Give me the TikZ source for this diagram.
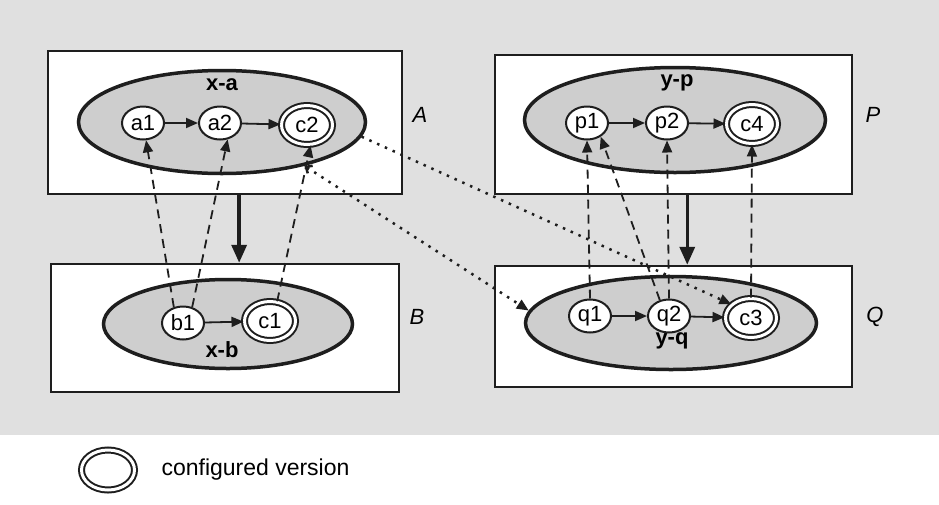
\documentclass[tikz,border=0pt]{standalone}
\usepackage{fontspec}
\setmainfont{Liberation Sans}
\usetikzlibrary{shapes.geometric,arrows.meta}

\definecolor{ink}{RGB}{30,30,30}
\definecolor{paper}{RGB}{224,224,224}
\definecolor{shade}{RGB}{206,206,206}

\begin{document}
\begin{tikzpicture}[x=1pt, y=-1pt,
    box/.style={rectangle, draw=ink, line width=2.5pt, fill=white, inner sep=0pt},
    cluster/.style={ellipse, draw=ink, line width=3.5pt, fill=shade, inner sep=0pt},
    ver/.style={ellipse, draw=ink, line width=2pt, fill=white,
        minimum width=42pt, minimum height=33pt, inner sep=0pt,
        font=\fontsize{22}{22}\selectfont},
    conf/.style={ver, double=white, double distance=3pt,
        minimum width=51pt, minimum height=39pt},
    title/.style={font=\bfseries\fontsize{22}{22}\selectfont},
    tag/.style={font=\itshape\fontsize{22}{22}\selectfont},
    evol/.style={ink, line width=1.8pt, -{Triangle[length=12pt,width=10pt]}},
    deriv/.style={ink, line width=3.5pt, -{Triangle[length=18pt,width=15pt]}},
    dep/.style={ink, line width=1.8pt, dash pattern=on 9pt off 6pt,
        -{Triangle[length=12pt,width=10pt]}},
    link/.style={ink, line width=2.5pt, dash pattern=on 2.5pt off 6pt,
        -{Triangle[length=12pt,width=10pt]}}
]
    \useasboundingbox (0,0) rectangle (939,504);
    \fill[paper] (0,0) rectangle (939,435);

    % left side: A over B
    \node[box, minimum width=354pt, minimum height=143pt] (A) at (225,122.5) {};
    \node[box, minimum width=348pt, minimum height=128pt] (B) at (225,328) {};
    \node[cluster, minimum width=287pt, minimum height=103pt] (xa) at (222,122) {};
    \node[cluster, minimum width=249pt, minimum height=89pt] (xb) at (228,324) {};
    \node[title] (xal) at (222,85) {x-a};
    \node[title] (xbl) at (222,350) {x-b};
    \node[tag] (Al) at (420,115) {A};
    \node[tag] (Bl) at (417,317) {B};

    \node[ver] (a1) at (143,123) {a1};
    \node[ver] (a2) at (220,123) {a2};
    \node[conf] (c2) at (307,125) {c2};
    \node[ver] (b1) at (183,323) {b1};
    \node[conf] (c1) at (270,321) {c1};

    % right side: P over Q
    \node[box, minimum width=357pt, minimum height=139pt] (P) at (673.5,124.5) {};
    \node[box, minimum width=357pt, minimum height=121pt] (Q) at (673.5,326.5) {};
    \node[cluster, minimum width=301pt, minimum height=105pt] (yp) at (675,120) {};
    \node[cluster, minimum width=291pt, minimum height=93pt] (yq) at (671,323) {};
    \node[title] (ypl) at (677,83) {y-p};
    \node[title] (yql) at (672,341) {y-q};
    \node[tag] (Pl) at (873,115) {P};
    \node[tag] (Ql) at (875,317) {Q};

    \node[ver] (p1) at (587,123) {p1};
    \node[ver] (p2) at (667,123) {p2};
    \node[conf] (c4) at (752,124) {c4};
    \node[ver] (q1) at (590,316) {q1};
    \node[ver] (q2) at (669,316) {q2};
    \node[conf] (c3) at (751,318) {c3};

    % version chains
    \draw[evol] (a1) -- (a2);
    \draw[evol] (a2) -- (c2);
    \draw[evol] (b1) -- (c1);
    \draw[evol] (p1) -- (p2);
    \draw[evol] (p2) -- (c4);
    \draw[evol] (q1) -- (q2);
    \draw[evol] (q2) -- (c3);

    % derivation between the boxes
    \draw[deriv] (A.-79) -- (A.-79 |- B.north);
    \draw[deriv] (P.-79) -- (P.-79 |- Q.north);

    % dependencies
    \draw[dep] (b1.120) -- (a1.280);
    \draw[dep] (b1.60) -- (a2.295);
    \draw[dep] (c1.70) -- (c2.280);
    \draw[dep] (q1.north) -- (p1.south);
    \draw[dep] (q2.120) -- (p1.-45);
    \draw[dep] (q2.north) -- (p2.south);
    \draw[dep] (c3.north) -- (c4.south);

    % links across
    \draw[link] (xa.-6) -- (c3.145);
    \draw[link, {Straight Barb[length=5pt,width=9pt]}-{Triangle[length=12pt,width=10pt]}] (xa.-28) -- (yq.175);

    % key
    \node[conf, minimum width=53pt, minimum height=40pt] (key) at (108,470) {};
    \node[anchor=west, font=\fontsize{23}{23}\selectfont] (keyl) at (158,470) {configured version};
\end{tikzpicture}
\end{document}
